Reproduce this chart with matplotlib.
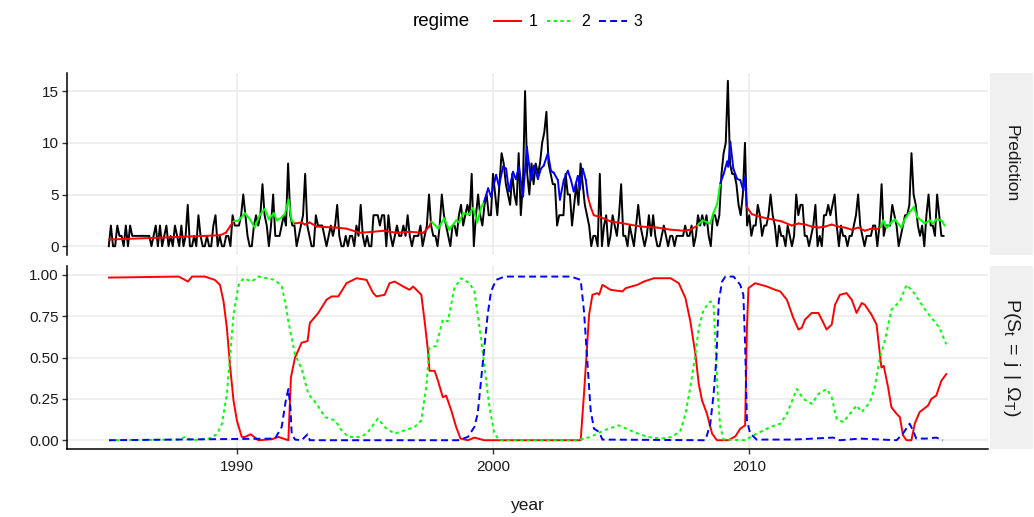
import numpy as np
import matplotlib.pyplot as plt
from matplotlib.collections import LineCollection
from matplotlib.lines import Line2D

plt.rcParams.update({
    'font.family': 'Liberation Sans',
    'mathtext.fontset': 'custom',
    'mathtext.rm': 'Liberation Sans',
    'mathtext.it': 'Liberation Sans',
    'lines.scale_dashes': False,
})

COLORS = {1: '#ff0000', 2: '#00ff00', 3: '#0000ff'}
STYLES = {1: '-', 2: (0, (2.4, 2.4)), 3: (0, (5.0, 3.0))}

# monthly observed series, Jan 1985 - Aug 2017
counts = [
    0, 2, 0, 0, 2, 1, 1, 0, 2, 0, 2, 1,      # 1985
    1, 1, 1, 1, 1, 1, 1, 1, 0, 1, 2, 0,      # 1986
    2, 0, 1, 2, 0, 1, 0, 2, 1, 0, 2, 0,      # 1987
    1, 4, 0, 0, 1, 0, 3, 1, 0, 0, 1, 0,      # 1988
    0, 2, 3, 0, 1, 0, 0, 1, 1, 0, 3, 2,      # 1989
    2, 2, 3, 5, 3, 1, 0, 0, 2, 3, 2, 3,      # 1990
    6, 3, 2, 0, 2, 5, 1, 1, 1, 2, 3, 2,      # 1991
    8, 3, 2, 2, 0, 1, 2, 3, 7, 2, 1, 0,      # 1992
    0, 3, 2, 2, 2, 1, 0, 1, 2, 1, 2, 4,      # 1993
    1, 0, 0, 1, 0, 1, 1, 0, 2, 1, 4, 1,      # 1994
    0, 1, 0, 0, 3, 3, 3, 2, 3, 3, 0, 3,      # 1995
    1, 0, 1, 2, 1, 1, 2, 1, 3, 1, 0, 1,      # 1996
    1, 1, 2, 0, 1, 2, 5, 2, 1, 1, 0, 2,      # 1997
    5, 3, 2, 1, 0, 2, 2, 1, 3, 4, 2, 3,      # 1998
    4, 3, 7, 0, 3, 5, 3, 2, 4, 5, 3, 3,      # 1999
    7, 5, 3, 6, 9, 8, 6, 5, 4, 7, 5, 4,      # 2000
    9, 3, 6, 15, 7, 5, 8, 6, 8, 7, 8, 10,    # 2001
    11, 13, 8, 7, 6, 6, 2, 3, 3, 3, 7, 5,    # 2002
    5, 2, 4, 6, 4, 8, 6, 4, 3, 2, 0, 1,      # 2003
    1, 0, 7, 0, 2, 3, 0, 1, 3, 2, 1, 3,      # 2004
    6, 1, 1, 0, 2, 1, 0, 2, 4, 2, 1, 0,      # 2005
    1, 3, 1, 3, 1, 0, 0, 1, 2, 1, 0, 1,      # 2006
    1, 0, 1, 1, 1, 1, 2, 1, 1, 2, 0, 1,      # 2007
    3, 2, 3, 2, 3, 1, 0, 3, 3, 2, 3, 7,      # 2008
    9, 10, 16, 8, 7, 7, 6, 4, 3, 5, 10, 2,   # 2009
    3, 1, 2, 2, 4, 3, 1, 2, 2, 3, 5, 3,      # 2010
    2, 0, 2, 1, 1, 0, 2, 1, 0, 1, 5, 3,      # 2011
    4, 4, 1, 1, 0, 1, 2, 4, 0, 1, 0, 3,      # 2012
    3, 4, 3, 4, 5, 2, 0, 2, 1, 1, 0, 1,      # 2013
    1, 2, 3, 5, 2, 1, 0, 1, 1, 1, 2, 2,      # 2014
    0, 2, 6, 1, 2, 2, 2, 4, 3, 2, 0, 1,      # 2015
    2, 3, 3, 4, 9, 5, 4, 2, 1, 2, 0, 3,      # 2016
    5, 2, 2, 1, 5, 3, 1, 1,                  # 2017
]
months = 1985 + np.arange(len(counts)) / 12

# fitted prediction with the regime it is assigned to
pred_year = [
    1985.02, 1986.69, 1988.25, 1989.34, 1989.57, 1989.73,
    1989.87, 1990.08, 1990.31, 1990.51, 1990.70, 1990.89, 1991.09, 1991.25,
    1991.44, 1991.56, 1991.75, 1991.87, 1992.02, 1992.14,
    1992.26, 1992.53, 1992.65, 1992.84, 1993.11, 1993.89, 1994.28, 1994.79,
    1995.33, 1995.72, 1996.23, 1996.73, 1997.28, 1997.51,
    1997.59, 1997.86, 1998.09, 1998.29, 1998.56, 1998.68, 1998.83, 1999.07,
    1999.22, 1999.38, 1999.53,
    1999.65, 1999.81, 1999.92, 2000.12, 2000.23, 2000.39, 2000.51, 2000.62,
    2000.78, 2000.89, 2001.01, 2001.17, 2001.32, 2001.48, 2001.60, 2001.75,
    2001.87, 2001.98, 2002.14, 2002.26, 2002.37, 2002.53, 2002.61, 2002.76,
    2002.92, 2003.04, 2003.15, 2003.31, 2003.39, 2003.50, 2003.62,
    2003.70, 2003.81, 2003.93, 2004.20, 2004.59, 2005.10, 2005.76, 2006.42,
    2006.93, 2007.43, 2007.70,
    2007.98, 2008.17, 2008.37, 2008.48, 2008.60, 2008.75,
    2008.87, 2008.99, 2009.14, 2009.18, 2009.26, 2009.38, 2009.53, 2009.65,
    2009.77, 2009.84,
    2009.90, 2010.10, 2010.49, 2010.88, 2011.27, 2011.66, 2011.92, 2012.18,
    2012.44, 2012.70, 2012.96, 2013.22, 2013.47, 2013.74, 2014.00, 2014.25,
    2014.51, 2014.77, 2015.03,
    2015.14, 2015.23, 2015.36, 2015.55, 2015.68, 2015.81, 2015.94, 2016.07,
    2016.26, 2016.43, 2016.56, 2016.72, 2016.85, 2017.04, 2017.17, 2017.30,
    2017.50, 2017.63,
]
pred_value = [
    0.65, 0.80, 0.95, 1.06, 1.30, 1.90,
    2.4, 2.5, 3.2, 2.6, 1.8, 3.0, 3.6, 2.6, 3.2, 2.5, 2.8, 3.1, 4.5, 2.5,
    2.2, 2.3, 2.1, 2.3, 1.9, 1.8, 1.7, 1.3, 1.4, 1.5, 1.3, 1.4, 1.3, 1.9,
    2.4, 1.7, 2.7, 1.6, 2.5, 2.3, 3.2, 3.1, 3.7, 2.3, 3.7,
    4.3, 5.6, 4.8, 6.9, 5.8, 7.7, 7.5, 5.3, 7.2, 6.5, 7.7, 4.8, 9.6, 6.4,
    7.8, 6.5, 7.5, 7.8, 9.0, 7.3, 7.1, 6.4, 4.5, 6.4, 7.3, 6.4, 5.3, 6.8,
    5.5, 7.5, 6.4,
    4.8, 3.8, 3.0, 2.8, 2.4, 2.2, 1.9, 1.8, 1.6, 1.5, 1.6,
    2.0, 2.5, 2.3, 2.2, 3.2, 4.1,
    6.1, 6.9, 8.2, 7.7, 10.1, 7.5, 6.5, 6.4, 5.4, 6.7,
    3.8, 3.1, 2.8, 2.6, 2.4, 2.0, 2.2, 2.1, 1.9, 1.8, 1.9, 2.1, 1.9, 1.8,
    1.6, 1.8, 1.5, 1.7, 1.7,
    1.9, 2.5, 1.8, 2.3, 2.6, 2.2, 1.8, 2.6, 3.3, 3.8, 2.8, 2.5, 2.2, 2.5,
    2.2, 2.6, 2.5, 2.0,
]
pred_regime = (
    [1] * 6 + [2] * 14 + [1] * 14 + [2] * 11 + [3] * 31 + [1] * 11
    + [2] * 6 + [3] * 10 + [1] * 19 + [2] * 18
)

# smoothed regime probabilities
p1_year = [
    1985.01, 1987.73, 1988.09, 1988.25, 1988.75, 1989.14, 1989.34, 1989.48,
    1989.61, 1989.74, 1989.87, 1990.00, 1990.19, 1990.32, 1990.54, 1990.84,
    1991.36, 1991.62, 1992.01, 1992.11, 1992.27, 1992.53, 1992.76, 1992.85,
    1993.18, 1993.50, 1993.70, 1993.96, 1994.28, 1994.67, 1995.06, 1995.32,
    1995.45, 1995.77, 1995.96, 1996.16, 1996.49, 1996.74, 1996.88, 1997.20,
    1997.33, 1997.46, 1997.52, 1997.72, 1997.85, 1998.04, 1998.17, 1998.37,
    1998.56, 1998.73, 1999.02, 1999.27, 1999.66, 2003.42, 2003.55, 2003.75,
    2003.88, 2004.07, 2004.14, 2004.27, 2004.59, 2005.05, 2005.18, 2005.63,
    2005.89, 2006.28, 2006.93, 2007.25, 2007.51, 2007.70, 2007.90, 2008.03,
    2008.16, 2008.35, 2008.55, 2008.74, 2009.19, 2009.46, 2009.65, 2009.84,
    2009.91, 2009.97, 2010.23, 2010.69, 2011.01, 2011.21, 2011.47, 2011.72,
    2011.92, 2012.05, 2012.18, 2012.44, 2012.70, 2012.83, 2013.02, 2013.22,
    2013.35, 2013.54, 2013.80, 2014.00, 2014.19, 2014.39, 2014.51, 2014.77,
    2014.97, 2015.10, 2015.16, 2015.25, 2015.42, 2015.55, 2015.75, 2015.88,
    2016.00, 2016.14, 2016.33, 2016.46, 2016.65, 2016.98, 2017.11, 2017.30,
    2017.50, 2017.69,
]
p1_value = [
    0.984, 0.99, 0.96, 0.99, 0.99, 0.97, 0.94, 0.84,
    0.68, 0.44, 0.24, 0.12, 0.02, 0.02, 0.036, 0.0,
    0.006, 0.02, 0.0, 0.38, 0.50, 0.59, 0.60, 0.71,
    0.77, 0.85, 0.87, 0.87, 0.95, 0.98, 0.97, 0.89,
    0.87, 0.88, 0.95, 0.96, 0.93, 0.91, 0.93, 0.88,
    0.72, 0.54, 0.42, 0.42, 0.36, 0.26, 0.27, 0.18,
    0.08, 0.01, 0.0, 0.016, 0.0, 0.0, 0.28, 0.76,
    0.88, 0.89, 0.88, 0.94, 0.91, 0.90, 0.92, 0.94,
    0.96, 0.98, 0.98, 0.95, 0.86, 0.72, 0.52, 0.34,
    0.24, 0.16, 0.04, 0.0, 0.0, 0.024, 0.07, 0.09,
    0.68, 0.92, 0.95, 0.93, 0.91, 0.90, 0.85, 0.74,
    0.67, 0.68, 0.73, 0.77, 0.77, 0.73, 0.67, 0.70,
    0.82, 0.88, 0.89, 0.85, 0.77, 0.83, 0.82, 0.76,
    0.70, 0.52, 0.44, 0.45, 0.32, 0.20, 0.16, 0.14,
    0.03, 0.0, 0.0, 0.10, 0.17, 0.21, 0.25, 0.27,
    0.36, 0.40,
]
p2_year = [
    1985.01, 1987.73, 1987.99, 1988.25, 1988.91, 1989.22, 1989.42, 1989.61,
    1989.74, 1989.87, 1990.07, 1990.26, 1990.58, 1990.84, 1991.49, 1991.75,
    1991.88, 1992.01, 1992.27, 1992.53, 1992.79, 1993.11, 1993.44, 1993.83,
    1994.09, 1994.35, 1994.86, 1995.12, 1995.50, 1995.84, 1996.16, 1996.55,
    1996.94, 1997.20, 1997.39, 1997.52, 1997.78, 1998.04, 1998.24, 1998.49,
    1998.75, 1999.08, 1999.27, 1999.53, 1999.73, 1999.86, 2000.05, 2000.25,
    2003.30, 2003.81, 2004.33, 2004.91, 2005.49, 2006.02, 2006.54, 2006.99,
    2007.32, 2007.51, 2007.70, 2007.90, 2008.03, 2008.22, 2008.48, 2008.61,
    2008.68, 2008.77, 2008.87, 2009.00, 2009.84, 2010.29, 2010.82, 2011.21,
    2011.47, 2011.86, 2012.11, 2012.44, 2012.70, 2013.02, 2013.22, 2013.41,
    2013.67, 2013.93, 2014.19, 2014.39, 2014.71, 2014.90, 2015.10, 2015.29,
    2015.55, 2015.88, 2016.14, 2016.39, 2016.91, 2017.17, 2017.43, 2017.69,
]
p2_value = [
    0.0, 0.004, 0.02, 0.0, 0.01, 0.036, 0.10, 0.28,
    0.52, 0.76, 0.94, 0.98, 0.96, 0.99, 0.97, 0.93,
    0.84, 0.72, 0.52, 0.43, 0.28, 0.22, 0.14, 0.12,
    0.06, 0.02, 0.02, 0.05, 0.13, 0.07, 0.04, 0.06,
    0.08, 0.12, 0.32, 0.56, 0.57, 0.73, 0.72, 0.92,
    0.98, 0.95, 0.90, 0.62, 0.36, 0.20, 0.04, 0.0,
    0.0, 0.02, 0.06, 0.09, 0.05, 0.02, 0.01, 0.02,
    0.06, 0.16, 0.32, 0.52, 0.68, 0.79, 0.84, 0.82,
    0.58, 0.28, 0.08, 0.004, 0.0, 0.04, 0.08, 0.10,
    0.16, 0.31, 0.25, 0.22, 0.28, 0.31, 0.26, 0.13,
    0.11, 0.16, 0.21, 0.17, 0.23, 0.32, 0.50, 0.60,
    0.79, 0.84, 0.94, 0.90, 0.78, 0.73, 0.68, 0.58,
]
p3_year = [
    1985.01, 1991.49, 1991.75, 1991.91, 1992.01, 1992.09, 1992.14, 1992.27,
    1992.53, 1992.76, 1992.85, 1998.63, 1999.02, 1999.27, 1999.40, 1999.53,
    1999.66, 1999.79, 1999.92, 2000.12, 2000.45, 2003.04, 2003.42, 2003.55,
    2003.68, 2003.81, 2003.94, 2004.14, 2004.27, 2008.27, 2008.35, 2008.48,
    2008.61, 2008.72, 2008.81, 2008.94, 2009.07, 2009.39, 2009.65, 2009.77,
    2009.84, 2009.91, 2010.04, 2010.29, 2011.72, 2013.28, 2013.54, 2014.32,
    2015.75, 2016.00, 2016.26, 2016.39, 2016.52, 2016.91, 2017.30, 2017.56,
]
p3_value = [
    0.0, 0.01, 0.08, 0.24, 0.31, 0.20, 0.04, 0.004,
    0.0, 0.036, 0.0, 0.0, 0.02, 0.08, 0.16, 0.36,
    0.56, 0.76, 0.90, 0.97, 0.99, 0.99, 0.97, 0.78,
    0.48, 0.18, 0.07, 0.05, 0.004, 0.0, 0.03, 0.10,
    0.28, 0.50, 0.84, 0.96, 0.99, 0.99, 0.94, 0.88,
    0.58, 0.12, 0.04, 0.004, 0.004, 0.016, 0.0, 0.01,
    0.0, 0.04, 0.10, 0.06, 0.01, 0.01, 0.016, 0.0,
]

GRID = '#ebebeb'
STRIP = '#f0f0f0'
W, H = 1034, 517
left, right = 67 / W, 988 / W

fig = plt.figure(figsize=(W / 100, H / 100), dpi=100)
ax1 = fig.add_axes([left, 1 - 254.5 / H, right - left, 182 / H])
ax2 = fig.add_axes([left, 1 - 448.5 / H, right - left, 182.5 / H])

for ax in (ax1, ax2):
    ax.set_facecolor('white')
    for s in ('top', 'right', 'bottom'):
        ax.spines[s].set_visible(False)
    ax.spines['left'].set_linewidth(1.1)
    ax.set_xlim(1983.37, 2019.32)
    ax.set_xticks([1990, 2000, 2010])
    ax.grid(True, color=GRID, linewidth=1.1)
    ax.set_axisbelow(True)
    ax.tick_params(axis='both', labelsize=11, length=3.5, width=1.0,
                   color='#333333', labelcolor='#1a1a1a', pad=2.5)

# top panel: observations and prediction coloured by regime
ax1.plot(months, counts, color='black', linewidth=1.4, zorder=2)
pts = np.column_stack([pred_year, pred_value])
segs = np.stack([pts[:-1], pts[1:]], axis=1)
seg_colors = [COLORS[r] for r in pred_regime[:-1]]
ax1.add_collection(LineCollection(segs, colors=seg_colors, linewidths=1.4,
                                  zorder=3, capstyle='round'))
ax1.set_ylim(-0.8, 16.8)
ax1.set_yticks([0, 5, 10, 15])
ax1.tick_params(axis='x', length=0, labelbottom=False)

# bottom panel: smoothed probabilities
for reg, xs, ys in ((1, p1_year, p1_value), (2, p2_year, p2_value),
                    (3, p3_year, p3_value)):
    ax2.plot(xs, ys, color=COLORS[reg], linestyle=STYLES[reg],
             linewidth=1.4, zorder=2 + reg)
ax2.set_ylim(-0.05, 1.054)
ax2.set_yticks([0, 0.25, 0.5, 0.75, 1.0])
ax2.set_yticklabels(['0.00', '0.25', '0.50', '0.75', '1.00'])
ax2.spines['bottom'].set_visible(True)
ax2.spines['bottom'].set_linewidth(1.1)
ax2.tick_params(axis='x', pad=5)
ax2.set_xlabel('year', fontsize=12.5, labelpad=17, color='#1a1a1a')

# facet strips on the right
strip_w = 43 / W
for ax, label, fs in ((ax1, 'Prediction', 12.5),
                      (ax2, r'$\mathrm{P(S_t\;=\;j\;\,|\;\,\Omega_T)}$', 14)):
    pos = ax.get_position()
    sax = fig.add_axes([right + 2 / W, pos.y0, strip_w, pos.height])
    sax.set_facecolor(STRIP)
    sax.set_xticks([])
    sax.set_yticks([])
    for s in sax.spines.values():
        s.set_visible(False)
    sax.text(0.5, 0.5, label, rotation=-90, ha='center', va='center',
             fontsize=fs, color='#1a1a1a', transform=sax.transAxes)

# legend on top
fig.text(441 / W, 1 - 22 / H, 'regime', ha='center', va='center',
         fontsize=13.5, color='black')
handles = [Line2D([], [], color=COLORS[r], linestyle=STYLES[r], linewidth=1.4)
           for r in (1, 2, 3)]
fig.legend(handles, ['1', '2', '3'], loc='center left', ncol=3,
           bbox_to_anchor=(494 / W, 1 - 22 / H), frameon=False,
           fontsize=11.5, handlelength=1.7, handletextpad=0.45,
           columnspacing=0.6, borderpad=0, borderaxespad=0)

fig.savefig('out.png', dpi=100)
